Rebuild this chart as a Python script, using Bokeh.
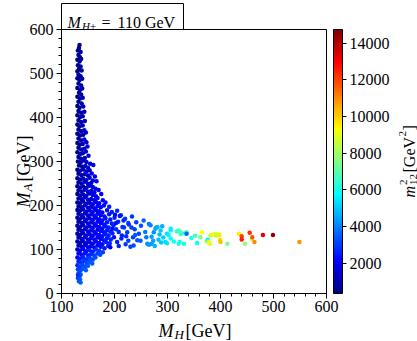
import math
from bokeh.plotting import figure
from bokeh.models import (ColumnDataSource, Range1d, FixedTicker, LinearColorMapper,
                          ColorBar, Label, BoxAnnotation)
from bokeh.transform import linear_cmap
from bokeh.embed import file_html
from bokeh.resources import INLINE

# ---------------- data ----------------
x_ticks = [100, 200, 300, 400, 500, 600]
y_ticks = [0, 100, 200, 300, 400, 500, 600]
cb_ticks = [2000, 4000, 6000, 8000, 10000, 12000, 14000]
cb_low, cb_high = 350, 14750

spike_mh = [
    134, 133, 131, 136, 132, 135, 130, 134, 137, 131, 136, 133, 130, 138,
    132, 136, 130, 134, 139, 132, 137, 130, 135, 139, 133, 137, 130, 135, 140,
    132, 138, 130, 134, 141, 132, 137, 143, 130, 135, 140, 132, 137, 144,
    130, 134, 140, 132, 137, 143, 130, 135, 141, 146, 132, 137, 143,
    130, 134, 140, 147, 132, 137, 143, 149, 130, 135, 140, 146, 132, 137, 144, 151,
]
spike_ma = [
    565, 558, 552, 549, 542, 537, 531, 527, 533, 519, 516, 510, 505, 507,
    498, 494, 489, 485, 488, 477, 473, 467, 463, 466, 456, 452, 447, 443, 445,
    436, 432, 426, 422, 425, 415, 411, 413, 405, 401, 403, 394, 390, 392,
    384, 380, 382, 373, 369, 371, 363, 359, 361, 366, 352, 348, 350,
    342, 338, 340, 344, 331, 327, 329, 334, 321, 317, 319, 323, 310, 306, 308, 313,
]
spike_m12 = [
    520, 610, 480, 700, 650, 560, 430, 720, 880, 590, 810, 680, 450, 950,
    740, 620, 510, 830, 1010, 690, 900, 470, 780, 1050, 860, 640, 550, 920, 1120,
    700, 1000, 480, 830, 1180, 760, 950, 1230, 520, 870, 1100, 680, 990, 1260,
    450, 800, 1150, 720, 1020, 1300, 530, 880, 1140, 1350, 760, 1060, 1280,
    490, 840, 1170, 1400, 700, 980, 1250, 1450, 560, 900, 1130, 1380, 740, 1030, 1290, 1500,
]

upper_mh = [
    131, 136, 141, 147, 154,
    133, 139, 145, 150, 160,
    130, 135, 141, 147, 153,
    132, 138, 144, 150, 157, 163,
    130, 135, 141, 147, 153, 159,
    132, 138, 144, 150, 156, 166,
    130, 135, 141, 147, 153, 159, 164,
    132, 138, 144, 150, 156, 162, 170,
    130, 135, 141, 147, 153, 159, 165, 175,
    132, 138, 144, 150, 156, 162, 168, 178,
    130, 135, 141, 147, 153, 159, 165, 171, 183,
    132, 138, 144, 150, 156, 162, 168, 174, 180, 190,
]
upper_ma = [
    300, 297, 302, 299, 295,
    291, 288, 290, 286, 292,
    281, 279, 282, 277, 280,
    272, 269, 271, 268, 273, 266,
    262, 259, 261, 258, 263, 257,
    252, 250, 254, 249, 251, 255,
    244, 241, 243, 240, 245, 242, 238,
    234, 232, 236, 231, 233, 230, 235,
    226, 223, 225, 222, 227, 224, 221, 226,
    216, 214, 218, 213, 215, 212, 217, 212,
    207, 205, 209, 204, 206, 203, 208, 205, 207,
    198, 196, 200, 195, 197, 194, 199, 196, 200, 197,
]
upper_m12 = [
    620, 900, 1150, 1380, 1600,
    780, 1050, 1300, 1450, 1750,
    540, 860, 1120, 1350, 1550,
    700, 980, 1250, 1420, 1650, 1850,
    590, 890, 1180, 1390, 1560, 1780,
    760, 1020, 1280, 1470, 1640, 1950,
    620, 930, 1160, 1400, 1580, 1720, 1900,
    800, 1070, 1300, 1480, 1620, 1830, 2050,
    680, 950, 1210, 1420, 1600, 1760, 1920, 2150,
    840, 1100, 1330, 1520, 1690, 1850, 2000, 2250,
    720, 980, 1240, 1450, 1630, 1790, 1950, 2100, 2350,
    880, 1130, 1360, 1550, 1720, 1880, 2020, 2180, 2300, 2500,
]

middle_mh = [
    130, 135, 141, 147, 153, 159, 165, 171, 177, 186, 195, 205,
    132, 138, 144, 150, 156, 162, 168, 174, 181, 190, 212,
    130, 135, 141, 147, 153, 159, 165, 171, 177, 183, 192, 200, 220,
    132, 138, 144, 150, 156, 162, 168, 174, 180, 186, 195, 207, 226,
    130, 135, 141, 147, 153, 159, 165, 171, 177, 183, 189, 198, 215,
    132, 138, 144, 150, 156, 162, 168, 174, 180, 186, 192, 203,
    130, 135, 141, 147, 153, 159, 165, 171, 177, 183, 189, 196,
    132, 138, 144, 150, 156, 162, 168, 174, 180, 186, 193,
    130, 135, 141, 147, 153, 159, 165, 171, 177, 184, 191,
    132, 138, 144, 150, 156, 162, 168, 174, 181, 188,
]
middle_ma = [
    190, 188, 191, 186, 189, 185, 190, 187, 184, 189, 185, 188,
    181, 178, 182, 177, 180, 176, 181, 178, 175, 180, 178,
    172, 170, 173, 168, 171, 167, 172, 169, 166, 171, 168, 172, 170,
    163, 160, 164, 159, 162, 158, 163, 160, 157, 162, 159, 163, 160,
    154, 151, 155, 150, 153, 149, 154, 151, 148, 153, 150, 155, 151,
    145, 142, 146, 141, 144, 140, 145, 142, 139, 144, 141, 146,
    136, 133, 137, 132, 135, 131, 136, 133, 130, 135, 132, 137,
    127, 124, 128, 123, 126, 122, 127, 124, 121, 126, 123,
    118, 115, 119, 114, 117, 113, 118, 115, 112, 117, 114,
    109, 106, 110, 105, 108, 104, 109, 106, 103, 108,
]
middle_m12 = [
    760, 1020, 1270, 1480, 1650, 1820, 1960, 2120, 2250, 2400, 2550, 2700,
    900, 1150, 1380, 1560, 1740, 1890, 2030, 2170, 2320, 2480, 2800,
    820, 1080, 1300, 1510, 1690, 1850, 1990, 2140, 2280, 2400, 2530, 2650, 2950,
    950, 1190, 1420, 1600, 1760, 1910, 2060, 2190, 2330, 2450, 2580, 2750, 3050,
    870, 1120, 1350, 1550, 1720, 1880, 2020, 2160, 2300, 2420, 2540, 2680, 2900,
    1000, 1240, 1460, 1640, 1800, 1940, 2080, 2220, 2350, 2470, 2600, 2750,
    920, 1170, 1400, 1590, 1760, 1910, 2050, 2190, 2320, 2450, 2570, 2700,
    1050, 1290, 1500, 1680, 1840, 1990, 2130, 2260, 2390, 2510, 2650,
    1000, 1250, 1470, 1660, 1820, 1970, 2110, 2250, 2380, 2500, 2640,
    1150, 1380, 1580, 1750, 1910, 2060, 2200, 2340, 2470, 2600,
]

lower_mh = [
    130, 135, 141, 147, 153, 159, 165, 171, 178,
    132, 138, 144, 150, 156, 162, 168, 173,
    130, 135, 141, 147, 153, 159, 164,
    132, 137, 142, 148, 153, 158,
    130, 135, 140, 145, 150,
    131, 136, 141, 146,
    132, 136, 134, 131, 135, 133, 136, 131,
]
lower_ma = [
    100, 97, 101, 96, 99, 95, 100, 97, 94,
    91, 88, 92, 87, 90, 86, 91, 88,
    82, 79, 83, 78, 81, 77, 82,
    73, 70, 74, 69, 72, 68,
    64, 61, 65, 60, 63,
    55, 52, 56, 53,
    46, 43, 39, 35, 32, 28, 25, 42,
]
lower_m12 = [
    1500, 1800, 2100, 2300, 2500, 2650, 2800, 2950, 3100,
    1900, 2200, 2400, 2600, 2750, 2900, 3000, 3150,
    2300, 2500, 2700, 2850, 3000, 3150, 3250,
    2600, 2800, 2950, 3100, 3250, 3350,
    2800, 3000, 3150, 3300, 3400,
    3000, 3200, 3350, 3450,
    3100, 3300, 3200, 3000, 3400, 3250, 3500, 2900,
]

tail_mh = [
    196, 205, 192, 199, 203, 208, 210, 213, 217, 218, 221, 224, 227, 230, 233,
    235, 236, 238, 241, 243, 246, 249, 250, 214, 226, 208, 201, 239, 232, 222,
    255, 258, 262, 265, 265, 268, 270, 270, 273, 274, 277, 279,
    281, 283, 285, 288, 290, 292, 296, 299, 299, 260, 287, 276,
    302, 306, 306, 306, 312, 318, 321, 321, 323, 325, 325, 331, 333, 336, 336, 345, 356, 362, 352,
    365, 374, 376, 378, 380, 381, 383, 386, 389, 390, 394, 397, 398, 399, 400, 392, 413,
    435, 440, 440, 446, 455, 459, 460, 464, 480, 499, 549,
]
tail_ma = [
    147, 117, 105, 128, 160, 140, 176, 125, 166, 150, 112, 139, 157, 106, 175,
    128, 109, 146, 162, 121, 136, 120, 154, 132, 120, 108, 179, 133, 150, 130,
    166, 140, 113, 158, 111, 155, 113, 129, 120, 139, 147, 150,
    151, 122, 134, 116, 153, 127, 117, 136, 114, 128, 143, 108,
    133, 143, 125, 147, 118, 141, 143, 113, 117, 135, 139, 113, 137, 139, 136, 126, 115, 128, 131,
    139, 118, 122, 117, 113, 132, 133, 134, 133, 135, 133, 134, 133, 122, 117, 132, 113,
    136, 130, 123, 113, 138, 124, 128, 117, 133, 133, 117,
]
tail_m12 = [
    2300, 2500, 2200, 2400, 2300, 2600, 2400, 2700, 2600, 2800, 2900, 2900, 2800, 3100, 2900,
    3000, 3200, 3100, 3000, 3300, 3200, 3400, 3300, 2600, 3000, 2600, 2200, 3400, 3000, 2800,
    3600, 3900, 4100, 3800, 4300, 4000, 4300, 4400, 4500, 4200, 4600, 4400,
    4700, 4800, 4900, 5000, 4600, 5100, 5200, 5300, 5400, 3800, 5000, 4700,
    5600, 5800, 5700, 5500, 6000, 6200, 6600, 6300, 5900, 6400, 6800, 6000, 6000, 6900, 3600, 6100, 5800, 7400, 6700,
    9300, 8300, 5800, 9500, 9000, 8800, 8600, 9000, 9400, 9100, 9300, 9200, 9600, 9800, 10200, 8400, 7600,
    9600, 12000, 12600, 7800, 12300, 8200, 11800, 11000, 13200, 14400, 10900,
]

for a, b, c in [(spike_mh, spike_ma, spike_m12), (upper_mh, upper_ma, upper_m12),
                (middle_mh, middle_ma, middle_m12), (lower_mh, lower_ma, lower_m12),
                (tail_mh, tail_ma, tail_m12)]:
    assert len(a) == len(b) == len(c), (len(a), len(b), len(c))

mh = spike_mh + upper_mh + middle_mh + lower_mh + tail_mh
ma = spike_ma + upper_ma + middle_ma + lower_ma + tail_ma
m12 = spike_m12 + upper_m12 + middle_m12 + lower_m12 + tail_m12


# ---------------- style ----------------
def jet(n=256):
    out = []
    for i in range(n):
        t = i / (n - 1)
        r = min(1, max(0, 1.5 - abs(4 * t - 3)))
        g = min(1, max(0, 1.5 - abs(4 * t - 2)))
        b = min(1, max(0, 1.5 - abs(4 * t - 1)))
        out.append("#%02x%02x%02x" % (round(r * 255), round(g * 255), round(b * 255)))
    return out


FONT = "Liberation Serif"
JET = jet()
W, H = 417, 341
# plot area on the canvas: x 61..326 px, y 29..293 px
FL, FR, FT, FB = 61, 326, 29, 293


def X(px):
    return 100 + (px - FL) * 500 / (FR - FL)


def Y(py):
    return (FB - py) * 600 / (FB - FT)


p = figure(width=W, height=H,
           x_range=Range1d(X(0), X(W)), y_range=Range1d(Y(H), Y(0)),
           min_border_left=0, min_border_right=0, min_border_top=0, min_border_bottom=0,
           output_backend="svg", toolbar_location=None, background_fill_color="white",
           border_fill_color="white")
p.grid.visible = False
p.outline_line_color = None

p.xaxis.ticker = FixedTicker(ticks=x_ticks, minor_ticks=list(range(100, 601, 20)))
p.yaxis.ticker = FixedTicker(ticks=y_ticks, minor_ticks=list(range(0, 601, 20)))
p.xaxis.fixed_location = 0
p.yaxis.fixed_location = 100
p.xaxis.bounds = (100, 600)
p.yaxis.bounds = (0, 600)
for ax in (p.xaxis, p.yaxis):
    ax.axis_line_color = "black"
    ax.major_tick_line_color = "black"
    ax.minor_tick_line_color = "black"
    ax.major_tick_in = 0
    ax.major_tick_out = 5
    ax.minor_tick_in = 0
    ax.minor_tick_out = 3
    ax.major_label_text_font = FONT
    ax.major_label_text_font_size = "16px"
    ax.major_label_text_color = "black"
p.xaxis.major_label_standoff = 2
p.yaxis.major_label_standoff = 3

# frame of the plotting area (top and right spines)
p.add_layout(BoxAnnotation(left=100, right=600, bottom=0, top=600, fill_alpha=0,
                           line_color="black", line_width=1, line_alpha=1))

src = ColumnDataSource(dict(mh=mh, ma=ma, m12=m12))
p.scatter("mh", "ma", source=src, size=4.5, line_color=None,
          fill_color=linear_cmap("m12", JET, cb_low, cb_high))

mapper = LinearColorMapper(palette=JET, low=cb_low, high=cb_high)
cb = ColorBar(color_mapper=mapper, ticker=FixedTicker(ticks=cb_ticks), width=9,
              height=FB - FT, location=(333, H - FB),
              padding=0, margin=0, label_standoff=3,
              major_label_text_font=FONT, major_label_text_font_size="16px",
              major_label_text_color="black",
              major_tick_line_color="black", major_tick_in=0, major_tick_out=4,
              minor_tick_line_color=None, bar_line_color="black",
              border_line_color=None, background_fill_color=None)
p.add_layout(cb)


def txt(s, px, py, size, italic=False, angle=0.0):
    p.add_layout(Label(x=X(px), y=Y(py), text=s, text_font=FONT,
                       text_font_size=f"{size}px",
                       text_font_style="italic" if italic else "normal",
                       text_align="left", text_baseline="alphabetic",
                       angle=angle, text_color="black"))


# title box
p.add_layout(BoxAnnotation(left=X(61), right=X(183), top=Y(3), bottom=Y(29),
                           fill_color="white", fill_alpha=1, line_color="black",
                           line_width=1, line_alpha=1))
txt("M", 67, 22, 16, italic=True)
txt("H±", 81.5, 25, 11, italic=True)
txt("=", 101, 22, 16)
txt("110 GeV", 117, 22, 16)

# x axis label
txt("M", 158, 330, 18, italic=True)
txt("H", 174, 333.5, 13, italic=True)
txt("[GeV]", 185, 330, 18)

# y axis label (rotated)
R = math.pi / 2
txt("M", 23, 207, 18, italic=True, angle=R)
txt("A", 27, 191, 13, italic=True, angle=R)
txt("[GeV]", 23, 181, 18, angle=R)

# colorbar label (rotated)
txt("m", 409, 197, 16, italic=True, angle=R)
txt("2", 403, 184.5, 11, angle=R)
txt("12", 412.5, 184.5, 11, angle=R)
txt("[GeV", 409, 172, 16, angle=R)
txt("2", 402, 136, 11, angle=R)
txt("]", 409, 130, 16, angle=R)

open("out.html", "w").write(file_html(p, INLINE))
